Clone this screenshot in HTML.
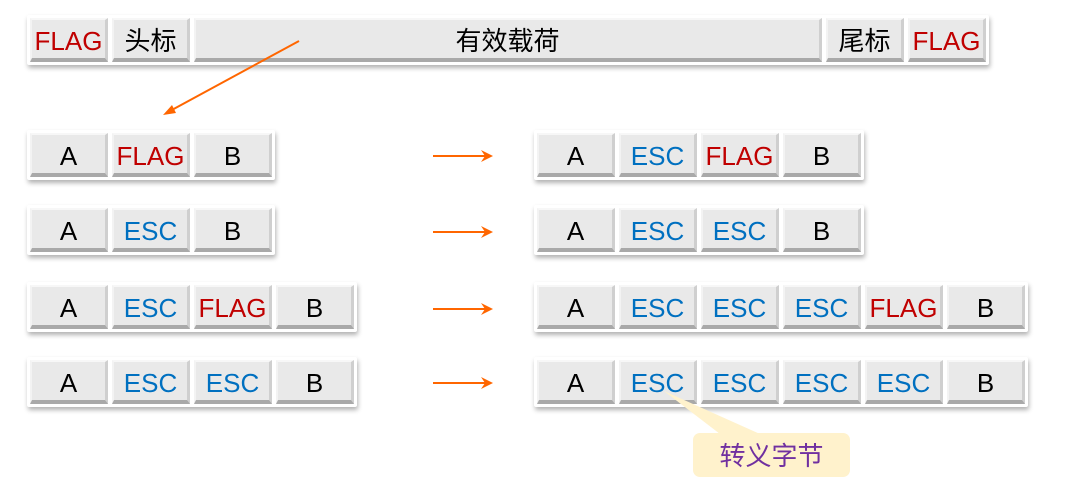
<!DOCTYPE html>
<html><head><meta charset="utf-8"><style>
body{margin:0;width:1082px;height:484px;background:#fff;position:relative;overflow:hidden;font-family:"Liberation Sans","Noto Sans CJK SC",sans-serif}
.row{position:absolute;display:flex;gap:4px;padding:3px;background:#fff;box-shadow:1px 3px 5px rgba(0,0,0,.3);border-radius:2px}
.c{width:78px;height:44px;box-sizing:border-box;padding-top:4px;background:#e9e9e9;border-top:2px solid #f7f7f7;border-left:2px solid #f3f3f3;border-right:3px solid #cfcfcf;border-bottom:4px solid #a9a9a9;display:flex;align-items:center;justify-content:center;font-size:26px;color:#000;line-height:1}
.r{color:#c00000}.b{color:#0070c0}
</style></head><body>
<div class="row" style="left:27px;top:15px">
<div class="c r">FLAG</div><div class="c">头标</div><div class="c" style="width:628px">有效载荷</div><div class="c">尾标</div><div class="c r">FLAG</div></div>

<div class="row" style="left:27px;top:130px"><div class="c">A</div><div class="c r">FLAG</div><div class="c">B</div></div>
<div class="row" style="left:27px;top:205px"><div class="c">A</div><div class="c b">ESC</div><div class="c">B</div></div>
<div class="row" style="left:27px;top:282px"><div class="c">A</div><div class="c b">ESC</div><div class="c r">FLAG</div><div class="c">B</div></div>
<div class="row" style="left:27px;top:357px"><div class="c">A</div><div class="c b">ESC</div><div class="c b">ESC</div><div class="c">B</div></div>

<div class="row" style="left:534px;top:130px"><div class="c">A</div><div class="c b">ESC</div><div class="c r">FLAG</div><div class="c">B</div></div>
<div class="row" style="left:534px;top:205px"><div class="c">A</div><div class="c b">ESC</div><div class="c b">ESC</div><div class="c">B</div></div>
<div class="row" style="left:534px;top:282px"><div class="c">A</div><div class="c b">ESC</div><div class="c b">ESC</div><div class="c b">ESC</div><div class="c r">FLAG</div><div class="c">B</div></div>
<div class="row" style="left:534px;top:357px"><div class="c">A</div><div class="c b">ESC</div><div class="c b">ESC</div><div class="c b">ESC</div><div class="c b">ESC</div><div class="c">B</div></div>

<svg width="1082" height="484" style="position:absolute;left:0;top:0">
<g stroke="#ff6600" stroke-width="2" fill="#ff6600">
<line x1="299" y1="41" x2="170" y2="111"/>
<polygon points="163,115 172,105 176,113" stroke="none"/>
<line x1="433" y1="156" x2="486" y2="156"/><polygon points="493,156 481,150 485,156 481,162" stroke="none"/>
<line x1="433" y1="232" x2="486" y2="232"/><polygon points="493,232 481,226 485,232 481,238" stroke="none"/>
<line x1="433" y1="309" x2="486" y2="309"/><polygon points="493,309 481,303 485,309 481,315" stroke="none"/>
<line x1="433" y1="383" x2="486" y2="383"/><polygon points="493,383 481,377 485,383 481,389" stroke="none"/>
</g>
<polygon points="664,391 720,434 760,434" fill="#fff2cc"/>
<rect x="693" y="433" width="157" height="44" rx="7" fill="#fff2cc"/>
<text x="771.5" y="465" text-anchor="middle" font-size="26" fill="#7030a0" font-family="Liberation Sans, Noto Sans CJK SC, sans-serif">转义字节</text>
</svg>
</body></html>
